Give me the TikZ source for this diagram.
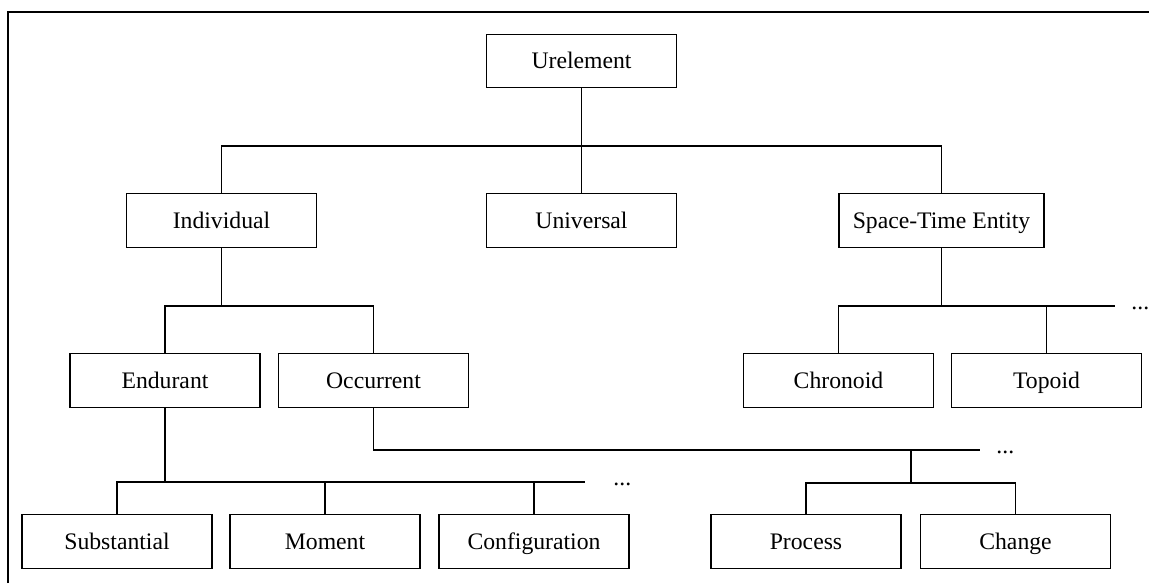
\documentclass[tikz,border=0pt]{standalone}
\usepackage{fontspec}
\setmainfont{Liberation Serif}
\usetikzlibrary{calc,positioning}
\newcommand{\catfont}{\fontsize{11.85}{14}\selectfont}
\tikzset{
  cbox/.style={draw, line width=0.7pt, minimum width=95pt, minimum height=26.75pt,
               inner sep=0pt, text height=7.85pt, text depth=0pt, font=\catfont},
  widebox/.style={minimum width=102.5pt},
  tline/.style={line width=0.7pt},
  frameline/.style={line width=1pt},
  moredots/.style={anchor=base west, inner sep=0pt, font=\catfont},
}

\begin{document}
\begin{tikzpicture}[x=0.5pt,y=-0.5pt,line cap=butt]
  \useasboundingbox (0,0) rectangle (1149,583);
  % ---- frame ----
  \draw[frameline] (8,583) -- (8,12) -- (1149,12);
  % ---- boxes ----
  \node[cbox] (ure) at (581.5,61) {Urelement};
  \node[cbox] (ind) at (221.5,220.5) {Individual};
  \node[cbox] (uni) at (581.5,220.5) {Universal};
  \node[cbox,widebox] (ste) at (941.5,220.5) {Space-Time Entity};
  \node[cbox] (end) at (165,380.5) {Endurant};
  \node[cbox] (occ) at (373.5,380.5) {Occurrent};
  \node[cbox] (chr) at (838.5,380.5) {Chronoid};
  \node[cbox] (top) at (1046.5,380.5) {Topoid};
  \node[cbox] (sub) at (117,541.5) {Substantial};
  \node[cbox] (mom) at (325,541.5) {Moment};
  \node[cbox] (con) at (534,541.5) {Configuration};
  \node[cbox] (pro) at (806,541.5) {Process};
  \node[cbox] (cha) at (1015.5,541.5) {Change};
  % ---- bus heights and open ends ----
  \coordinate (busA) at (0,146);
  \coordinate (busB) at (0,306);
  \coordinate (busC) at (0,482);
  \coordinate (busD) at (0,450);
  \coordinate (busE) at (0,483);
  \coordinate (steend) at (1115,306);
  \coordinate (endend) at (585,482);
  \coordinate (occend) at (980,450);
  \coordinate (occfork) at (911,450);
  \node[moredots] (stemore) at (1131,309) {...};
  \node[moredots] (endmore) at (613,485) {...};
  \node[moredots] (occmore) at (996,453) {...};
  % ---- Urelement ----
  \draw[tline] (ure.south) -- (uni.north);
  \draw[tline] (ind.north) -- (ind.north |- busA) -| (ste.north);
  % ---- Individual ----
  \draw[tline] (ind.south) -- (ind.south |- busB);
  \draw[tline] (end.north) -- (end.north |- busB) -| (occ.north);
  % ---- Space-Time Entity ----
  \draw[tline] (ste.south) -- (ste.south |- busB);
  \draw[tline] (chr.north) -- (chr.north |- busB) -- (steend);
  \draw[tline] (top.north) -- (top.north |- busB);
  % ---- Endurant ----
  \draw[tline] (end.south) -- (end.south |- busC);
  \draw[tline] (sub.north) -- (sub.north |- busC) -- (endend);
  \draw[tline] (mom.north) -- (mom.north |- busC);
  \draw[tline] (con.north) -- (con.north |- busC);
  % ---- Occurrent ----
  \draw[tline] (occ.south) -- (occ.south |- busD) -- (occend);
  \draw[tline] (occfork) -- (occfork |- busE);
  \draw[tline] (pro.north) -- (pro.north |- busE) -| (cha.north);
\end{tikzpicture}
\end{document}
